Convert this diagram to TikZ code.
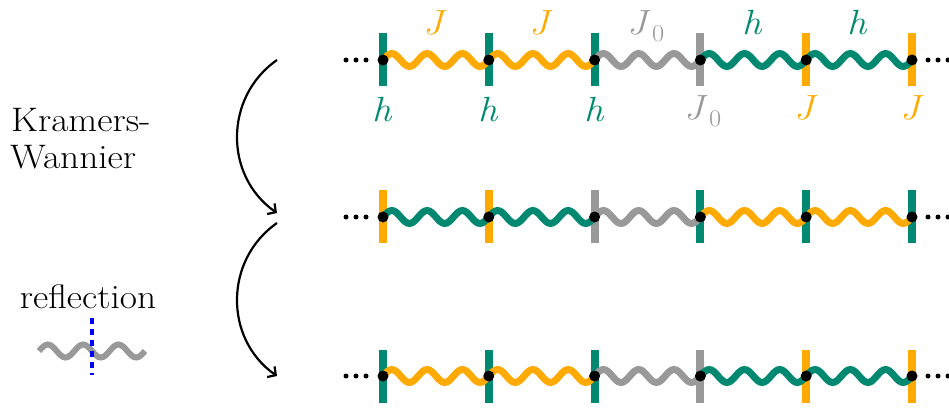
\documentclass[tikz,border=0pt]{standalone}
\usepackage{fontspec}
\setmainfont[FakeStretch=1.1]{Latin Modern Roman}
\usetikzlibrary{arrows.meta,calc}
\definecolor{bondgreen}{RGB}{0,137,112}
\definecolor{bondorange}{RGB}{255,170,0}
\definecolor{bondgray}{RGB}{153,153,153}
\newcommand{\symJ}{\textit{J}}
\newcommand{\symh}{\textit{h}}
\newcommand{\symJz}{\textit{J}\kern1pt\raisebox{-7pt}{\fontsize{24}{26}\selectfont 0}}
\begin{document}
\begin{tikzpicture}[x=1pt,y=1pt,
  % three full sine periods between the two ends of a bond
  wave/.style={line width=7pt,line cap=round,
    to path={
      let \p1=(\tikztostart), \p2=(\tikztotarget), \n1={(\x2-\x1)/12} in
      (\tikztostart)
      sin ++(\n1,6.5) cos ++(\n1,-6.5) sin ++(\n1,-6.5) cos ++(\n1,6.5)
      sin ++(\n1,6.5) cos ++(\n1,-6.5) sin ++(\n1,-6.5) cos ++(\n1,6.5)
      sin ++(\n1,6.5) cos ++(\n1,-6.5) sin ++(\n1,-6.5) cos ++(\n1,6.5)
    }},
  bar/.style={line width=8pt},
  site/.style={circle,fill=black,inner sep=0pt,minimum size=11pt},
  tinydot/.style={circle,fill=black,inner sep=0pt,minimum size=5pt},
  lbl/.style={font=\fontsize{35}{38}\selectfont,inner sep=0pt,anchor=base},
  word/.style={font=\fontsize{34}{37}\selectfont,inner sep=0pt},
  flow/.style={line width=2.2pt,-{Straight Barb[length=6pt,width=13pt]}},
]
\useasboundingbox (0,0) rectangle (949,407);

% site positions of the three chains
\foreach \r/\y in {a/347,b/190,c/31}{
  \foreach \i in {1,...,6}{
    \coordinate (\r\i) at ({383+105.8*(\i-1)},\y);
  }
}

% vertical markers on the sites
\foreach \r/\c in {a1/bondgreen,a2/bondgreen,a3/bondgreen,a4/bondgray,a5/bondorange,a6/bondorange,
                   b1/bondorange,b2/bondorange,b3/bondgray,b4/bondgreen,b5/bondgreen,b6/bondgreen,
                   c1/bondgreen,c2/bondgreen,c3/bondgreen,c4/bondgray,c5/bondorange,c6/bondorange}{
  \draw[bar,\c] ([yshift=-26.5pt]\r) -- ([yshift=26.5pt]\r);
}

% wavy bonds
\foreach \r/\s/\c in {a1/a2/bondorange,a2/a3/bondorange,a3/a4/bondgray,a4/a5/bondgreen,a5/a6/bondgreen,
                      b1/b2/bondgreen,b2/b3/bondgreen,b3/b4/bondgray,b4/b5/bondorange,b5/b6/bondorange,
                      c1/c2/bondorange,c2/c3/bondorange,c3/c4/bondgray,c4/c5/bondgreen,c5/c6/bondgreen}{
  \draw[wave,\c] (\r) to (\s);
}

% sites
\foreach \r in {a,b,c}{
  \foreach \i in {1,...,6}{
    \node[site] (s\r\i) at (\r\i) {};
  }
  % continuation dots at both ends
  \foreach \k in {0,1,2}{
    \node[tinydot] (l\r\k) at ([xshift={-37pt+10pt*\k}]\r1) {};
    \node[tinydot] (r\r\k) at ([xshift={16pt+10pt*\k}]\r6) {};
  }
}

% couplings on the bonds of the first chain
\node[lbl,bondorange] (tJ1) at (435,372) {\symJ};
\node[lbl,bondorange] (tJ2) at (541,372) {\symJ};
\node[lbl,bondgray]   (tJ0) at (646,372) {\symJz};
\node[lbl,bondgreen]  (th1) at (753,372) {\symh};
\node[lbl,bondgreen]  (th2) at (858,372) {\symh};

% fields on the sites of the first chain
\node[lbl,bondgreen]  (bh1) at (383,285) {\symh};
\node[lbl,bondgreen]  (bh2) at (489,285) {\symh};
\node[lbl,bondgreen]  (bh3) at (595,285) {\symh};
\node[lbl,bondgray]   (bJ0) at (703,287) {\symJz};
\node[lbl,bondorange] (bJ1) at (806,287) {\symJ};
\node[lbl,bondorange] (bJ2) at (912,287) {\symJ};

% transformations between the chains
\coordinate (k0) at (277,347);
\coordinate (k1) at (277,194);
\coordinate (m0) at (277,184);
\coordinate (m1) at (277,31);
\draw[flow] (k0) .. controls (224,310) and (224,231) .. (k1);
\draw[flow] (m0) .. controls (224,147) and (224,68) .. (m1);

\node[word,anchor=base west] (kw1) at (11,275) {Kramers-};
\node[word,anchor=base west] (kw2) at (10,238) {Wannier};
\node[word,anchor=base] (refl) at (88,99) {reflection};

% reflection symbol: a bond mirrored about a dashed axis
\coordinate (w0) at (39,56);
\coordinate (w1) at (145,56);
\draw[wave,bondgray,line width=6pt,line cap=butt] (w0) to (w1);
\coordinate (ax0) at (92,89);
\coordinate (ax1) at (92,32);
\draw[blue,line width=4pt,dash pattern=on 6pt off 5pt] (ax0) -- (ax1);
\end{tikzpicture}
\end{document}
